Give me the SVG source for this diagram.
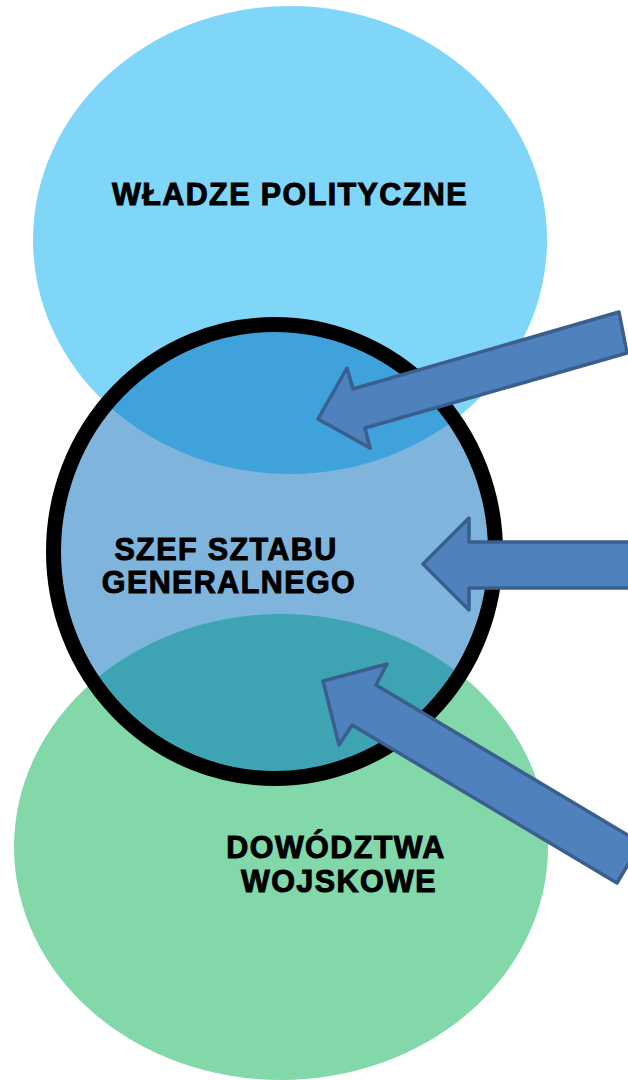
<svg xmlns="http://www.w3.org/2000/svg" width="628" height="1080" viewBox="0 0 628 1080">
<style>
.lbl{font-family:"Liberation Sans",Arial,sans-serif;font-weight:bold;font-size:30.5px;fill:#000;stroke:#000;stroke-width:1;letter-spacing:1.4px;text-anchor:middle}
.arrow{fill:#4f81bd;stroke:#3a5f8e;stroke-width:3.5;stroke-linejoin:round}
</style>
<defs>
<clipPath id="cc"><ellipse cx="274.5" cy="551.5" rx="221" ry="227"/></clipPath>
</defs>
<g id="top">
<ellipse cx="290" cy="240" rx="257" ry="234" fill="#7fd6f8"/>
</g>
<g id="bottom">
<ellipse cx="281" cy="847" rx="267" ry="233" fill="#82d8a9"/>
</g>
<g id="center">
<ellipse cx="274.5" cy="551.5" rx="221" ry="227" fill="#7fb5dc"/>
<g clip-path="url(#cc)">
<ellipse cx="290" cy="240" rx="257" ry="234" fill="#3fa2da"/>
<ellipse cx="281" cy="847" rx="267" ry="233" fill="#3ea4b4"/>
</g>
<ellipse cx="274.5" cy="551.5" rx="221" ry="227" fill="none" stroke="#000" stroke-width="15"/>
</g>
<g id="labels">
<text class="lbl" x="290" y="205">WŁADZE POLITYCZNE</text>
<text class="lbl" x="226" y="560">SZEF SZTABU</text>
<text class="lbl" x="229" y="593">GENERALNEGO</text>
<text class="lbl" x="336" y="858">DOWÓDZTWA</text>
<text class="lbl" x="339" y="892">WOJSKOWE</text>
</g>
<g id="connectors">
<polygon class="arrow" points="318,419 347,368 353,389 619,312 627,353 365,428 370,448"/>
<polygon class="arrow" points="423,564 469,518 469,542 640,542 640,588 469,588 469,610"/>
<polygon class="arrow" points="323,681 387,664 376,685 641,843 617,883 352,725 339,745"/>
</g>
</svg>
